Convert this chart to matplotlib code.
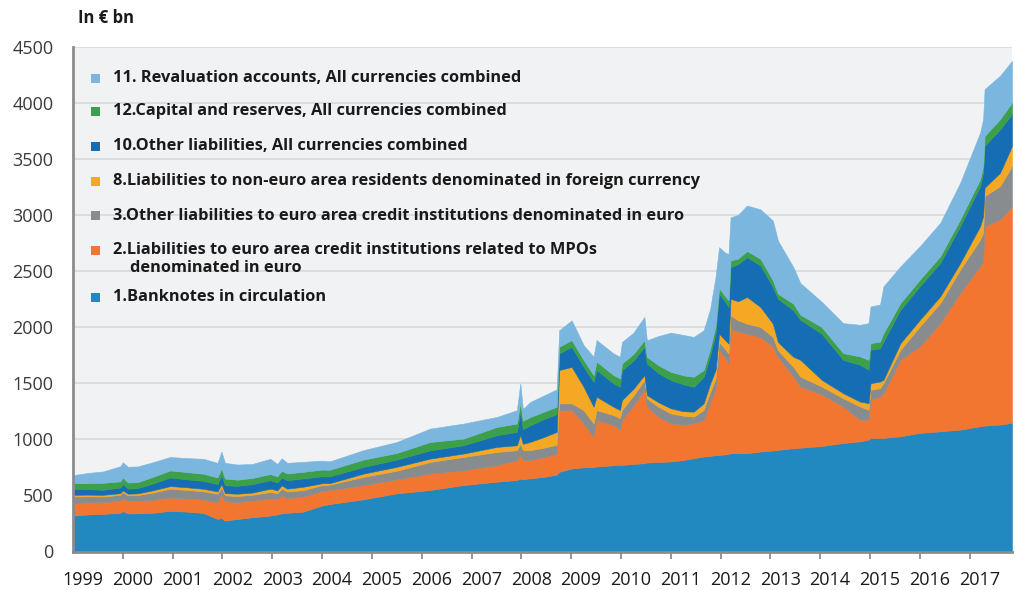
import numpy as np
import matplotlib
matplotlib.use("Agg")
import matplotlib.pyplot as plt
from matplotlib.patches import Rectangle

plt.rcParams['font.family'] = ['Open Sans', 'DejaVu Sans']

# --- Data (in € bn) ---
years = [1999.00, 1999.30, 1999.60, 1999.95, 2000.00, 2000.10, 2000.30, 2000.60, 2000.95,
         2001.30, 2001.62, 2001.90, 2001.98, 2002.05, 2002.30, 2002.60, 2002.96, 2003.10,
         2003.19, 2003.30, 2003.62, 2004.00, 2004.16, 2004.83, 2005.50, 2006.17, 2006.84,
         2007.51, 2007.91, 2007.98, 2008.03, 2008.18, 2008.45, 2008.71, 2008.76,
         2009.01, 2009.25, 2009.45, 2009.51, 2009.85, 2009.98, 2010.02, 2010.25, 2010.47,
         2010.52, 2010.75, 2011.00, 2011.25, 2011.46, 2011.66, 2011.79, 2011.90, 2011.97,
         2012.10, 2012.16, 2012.20, 2012.35, 2012.53, 2012.80, 2013.05, 2013.15, 2013.46,
         2013.60, 2014.03, 2014.46, 2014.80, 2014.97, 2015.01, 2015.20, 2015.27, 2015.61,
         2016.00, 2016.41, 2016.81, 2017.21, 2017.27, 2017.30, 2017.61, 2017.85]

banknotes = [320, 330, 335, 345, 360, 340, 340, 345, 362,
             355, 343, 290, 300, 275, 290, 305, 320, 330,
             340, 345, 355, 410, 423, 465, 518, 548, 592,
             622, 637, 650, 645, 652, 665, 685, 710,
             740, 750, 752, 758, 768, 772, 772, 780, 787,
             793, 798, 802, 815, 832, 846, 852, 858, 861,
             866, 870, 876, 876, 876, 891, 900, 906, 920,
             925, 940, 967, 982, 997, 1012, 1012, 1012, 1027,
             1057, 1071, 1086, 1116, 1118, 1122, 1131, 1146]

mpo = [110, 110, 105, 110, 115, 110, 113, 115, 118,
       117, 119, 150, 210, 175, 150, 150, 150, 135,
       160, 130, 133, 130, 124, 126, 125, 146, 132,
       147, 178, 210, 170, 163, 175, 185, 549,
       519, 390, 271, 412, 359, 311, 400, 520, 652,
       497, 402, 340, 315, 310, 326, 480, 592, 933,
       854, 805, 1110, 1084, 1065, 1021, 923, 828, 637,
       545, 460, 325, 191, 176, 340, 369, 399, 681,
       770, 964, 1217, 1425, 1468, 1777, 1827, 1931]

other_ea_credit = [60, 52, 50, 50, 55, 50, 50, 65, 80,
                   76, 74, 75, 60, 50, 55, 50, 60, 55,
                   60, 60, 59, 52, 49, 74, 77, 104, 119,
                   118, 88, 100, 88, 88, 85, 80, 61,
                   61, 119, 117, 89, 89, 104, 89, 90, 88,
                   74, 90, 89, 80, 60, 89, 88, 90, 73,
                   80, 89, 118, 100, 89, 89, 89, 60, 88,
                   89, 70, 74, 119, 89, 89, 74, 89, 89,
                   179, 179, 209, 239, 253, 268, 298, 358]

non_euro_fx = [15, 15, 15, 15, 15, 15, 15, 20, 23,
               24, 23, 20, 30, 20, 20, 20, 30, 25,
               30, 25, 30, 16, 14, 29, 35, 30, 30,
               45, 44, 80, 57, 74, 95, 116, 297,
               325, 209, 150, 120, 74, 74, 89, 60, 45,
               30, 40, 45, 40, 44, 59, 75, 80, 74,
               80, 88, 149, 170, 238, 178, 118, 73, 90,
               149, 60, 45, 44, 60, 59, 60, 30, 60,
               59, 60, 59, 119, 149, 75, 119, 179]

other_liab = [55, 48, 45, 50, 55, 45, 47, 60, 77,
              70, 71, 65, 80, 70, 70, 75, 75, 70,
              70, 75, 74, 62, 60, 60, 64, 74, 74,
              104, 119, 210, 130, 148, 160, 159, 148,
              179, 178, 221, 238, 208, 207, 266, 250, 251,
              281, 260, 251, 240, 222, 237, 250, 330, 356,
              340, 327, 281, 330, 355, 370, 326, 386, 414,
              357, 410, 297, 328, 297, 298, 295, 342, 298,
              298, 298, 328, 357, 387, 372, 387, 283]

capital = [50, 53, 62, 55, 60, 55, 53, 60, 62,
           65, 63, 60, 60, 60, 55, 55, 55, 55,
           60, 60, 59, 60, 59, 65, 59, 74, 59,
           74, 74, 80, 75, 74, 65, 65, 60,
           60, 60, 60, 75, 74, 74, 59, 60, 60,
           59, 70, 74, 80, 89, 59, 60, 60, 50,
           50, 59, 59, 50, 55, 59, 60, 44, 60,
           45, 60, 60, 74, 89, 59, 60, 74, 59,
           60, 59, 60, 60, 60, 89, 90, 103]

revaluation = [70, 92, 101, 135, 135, 140, 140, 130, 120,
               125, 133, 130, 150, 140, 135, 125, 136, 110,
               110, 95, 89, 80, 75, 84, 98, 119, 134,
               89, 119, 167, 105, 134, 145, 155, 147,
               176, 133, 164, 192, 193, 193, 192, 190, 207,
               148, 260, 349, 360, 355, 355, 355, 440, 365,
               390, 414, 385, 390, 405, 441, 532, 474, 325,
               283, 225, 267, 282, 327, 327, 330, 417, 327,
               297, 298, 327, 417, 417, 417, 388, 372]

labels = ["1.Banknotes in circulation",
          "2.Liabilities to euro area credit institutions related to MPOs",
          "3.Other liabilities to euro area credit institutions denominated in euro",
          "8.Liabilities to non-euro area residents denominated in foreign currency",
          "10.Other liabilities, All currencies combined",
          "12.Capital and reserves, All currencies combined",
          "11. Revaluation accounts, All currencies combined"]
colors = ["#2189c0", "#f27630", "#898c8e", "#f5a823", "#156db3", "#3c9f4a", "#7bb6df"]

# --- Plot ---
W, H = 1015, 590
fig = plt.figure(figsize=(W / 100, H / 100), dpi=100)
ax = fig.add_axes([73 / W, 1 - 551.5 / H, (1012 - 73) / W, (551.5 - 46.5) / H])
ax.set_facecolor("#f1f2f4")

series = [banknotes, mpo, other_ea_credit, non_euro_fx, other_liab, capital, revaluation]
ax.stackplot(years, *series, colors=colors, linewidth=0.4, edgecolor="face", zorder=2)

ax.set_xlim(1999.0, 2017.85)
ax.set_ylim(0, 4500)
ax.set_yticks(np.arange(0, 4501, 500))
ax.yaxis.grid(True, color="#d9dadc", linewidth=1.3, zorder=1)
ax.set_axisbelow(True)

# year boundary ticks (no labels) + labels slightly right of them
ax.set_xticks(range(2000, 2018))
ax.set_xticklabels([])
ax.set_xticks([y + 0.2 for y in range(1999, 2018)], minor=True)
ax.set_xticklabels([str(y) for y in range(1999, 2018)], minor=True)
ax.tick_params(axis="x", which="major", length=5, width=1.3, color="#8c8c8c", direction="out")
ax.tick_params(axis="x", which="minor", length=0, pad=14, labelsize=13, labelcolor="#1a1a1a")
ax.tick_params(axis="y", length=0, pad=14, labelsize=13, labelcolor="#3a3a3a")

for side in ["top", "right"]:
    ax.spines[side].set_visible(False)
ax.spines["left"].set_color("#8c8c8c")
ax.spines["left"].set_linewidth(2)
ax.spines["bottom"].set_color("#8c8c8c")
ax.spines["bottom"].set_linewidth(2)

fig.text(78 / W, 1 - 18 / H, "In € bn", fontsize=12, fontweight="bold",
         color="#1a1a1a", va="center", ha="left")

# legend drawn by hand, top entry first
leg_y = [297, 250, 216, 181, 146, 111, 78]
for lab, col, yy in zip(labels, colors, leg_y):
    fig.patches.append(Rectangle((91 / W, 1 - (yy + 4.5) / H), 9 / W, 9 / H,
                                 transform=fig.transFigure, facecolor=col,
                                 edgecolor="none", zorder=5))
    fig.text(113 / W, 1 - yy / H, lab, fontsize=11.8, fontweight="bold",
             color="#1a1a1a", va="center", ha="left", zorder=6)
fig.text(130 / W, 1 - 268 / H, "denominated in euro", fontsize=11.8, fontweight="bold",
         color="#1a1a1a", va="center", ha="left", zorder=6)

fig.savefig("out.png", dpi=100)
